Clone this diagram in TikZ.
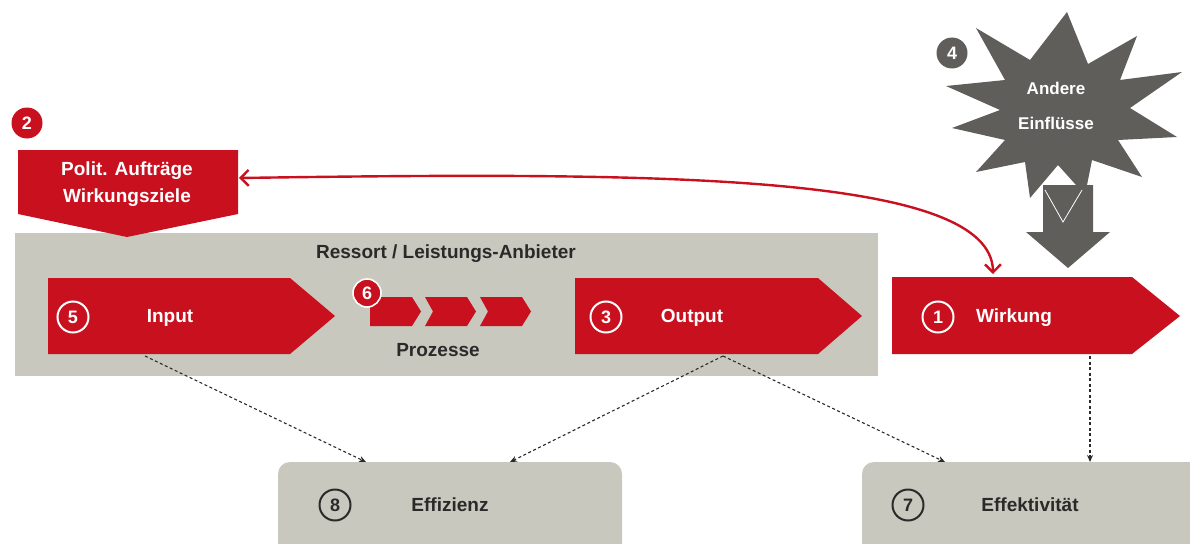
\documentclass[tikz,border=0pt]{standalone}
\usepackage{fontspec}
\setmainfont{Liberation Sans}
\usetikzlibrary{arrows.meta,shapes.symbols}
\definecolor{rred}{HTML}{C8101E}
\definecolor{rgray}{HTML}{C9C8BE}
\definecolor{dgray}{HTML}{5F5E5A}
\definecolor{txt}{HTML}{2A2A2A}
\tikzset{
  lbl/.style={font=\bfseries\fontsize{19}{27}\selectfont, text=white, align=center, inner sep=0},
  dlbl/.style={font=\bfseries\fontsize{19}{27}\selectfont, text=txt, align=center, inner sep=0},
  numw/.style={circle, draw=white, line width=2pt, minimum size=31pt, inner sep=0, text=white, font=\bfseries\fontsize{18}{18}\selectfont},
  numb/.style={circle, draw=txt, line width=2pt, minimum size=31pt, inner sep=0, text=txt, font=\bfseries\fontsize{18}{18}\selectfont},
  numf/.style={circle, fill=#1, minimum size=31pt, inner sep=0, text=white, font=\bfseries\fontsize{18}{18}\selectfont},
  dasharrow/.style={dash pattern=on 3pt off 2.5pt, draw=txt, line width=1.1pt, -{Stealth[length=7pt,width=6pt]}},
}
\begin{document}
\begin{tikzpicture}[x=1pt,y=-1pt]
\useasboundingbox (0,0) rectangle (1190,543);
% gray background box
\fill[rgray] (15,233) rectangle (878,376);
\node[dlbl] (ressort) at (446,254) {Ressort / Leistungs-Anbieter};
% Polit pentagon
\fill[rred] (18,150) -- (238,150) -- (238,214) -- (127,237) -- (18,214) -- cycle;
\node[lbl] (polit) at (127,184) {Polit. Aufträge\\Wirkungsziele};
\coordinate (politR) at (239,178);
\node[numf=rred] (n2) at (27,123) {2};
% Input arrow
\fill[rred] (48,278) -- (290,278) -- (335,316) -- (290,354) -- (48,354) -- cycle;
\node[numw] (n5) at (73,317) {5};
\node[lbl] (input) at (170,318) {Input};
\coordinate (inB) at (145,356);
% Prozesse chevrons
\foreach \x in {370,425,480}{
  \fill[rred] (\x,297) -- (\x+42,297) -- (\x+51,311.5) -- (\x+42,326) -- (\x,326) -- (\x+8,311.5) -- cycle;
}
\fill[rred] (370,297) rectangle (380,326);
\node[numf=rred, draw=white, line width=1.6pt, minimum size=28pt] (n6) at (367,293) {6};
\node[dlbl] (proz) at (438,350) {Prozesse};
% Output arrow
\fill[rred] (575,278) -- (818,278) -- (862,316) -- (818,354) -- (575,354) -- cycle;
\node[numw] (n3) at (606,317) {3};
\node[lbl] (output) at (692,318) {Output};
\coordinate (outB) at (723,356);
% Wirkung arrow
\fill[rred] (892,277) -- (1132,277) -- (1180,316) -- (1132,354) -- (892,354) -- cycle;
\node[numw] (n1) at (938,317) {1};
\node[lbl] (wirk) at (1014,318) {Wirkung};
\coordinate (wirkT) at (993,274);
\coordinate (wirkB) at (1090,356);
% starburst
\fill[dgray] (1067,12) -- (1088,64) -- (1137,36) -- (1120,80) -- (1182,72) -- (1130,108)
  -- (1177,137) -- (1118,140) -- (1142,177) -- (1092,160) -- (1085,195) -- (1058,165)
  -- (1030,198) -- (1025,162) -- (976,172) -- (1005,140) -- (952,128) -- (1000,110)
  -- (946,86) -- (1005,80) -- (976,28) -- (1030,60) -- cycle;
\node[lbl, font=\bfseries\fontsize{17}{35}\selectfont] (andere) at (1056,106) {Andere\\Einflüsse};
\node[numf=dgray] (n4) at (952,53) {4};
% big gray arrow down
\fill[dgray] (1043,185) -- (1093,185) -- (1093,232) -- (1110,232) -- (1068,268) -- (1026,232) -- (1043,232) -- cycle;
\draw[white, line width=0.8pt] (1045,190) -- (1063,222) -- (1082,190);
% red curved two-way arrow
\draw[rred, line width=2.4pt, {Straight Barb[length=8pt,width=16pt]}-{Straight Barb[length=8pt,width=16pt]}]
  (politR) .. controls (650,172) and (992,172) .. (wirkT);
% bottom boxes
\fill[rgray, rounded corners=12pt] (278,462) rectangle (622,560);
\node[numb] (n8) at (335,505) {8};
\node[dlbl] (eff) at (450,505) {Effizienz};
\fill[rgray, rounded corners=12pt] (862,462) rectangle (1210,560);
\node[numb] (n7) at (908,505) {7};
\node[dlbl] (effk) at (1030,505) {Effektivität};
\coordinate (effA) at (366,462);
\coordinate (effB) at (510,462);
\coordinate (effkA) at (945,462);
\coordinate (effkB) at (1090,462);
% dashed arrows
\draw[dasharrow] (inB) -- (effA);
\draw[dasharrow] (outB) -- (effB);
\draw[dasharrow] (outB) -- (effkA);
\draw[dasharrow] (wirkB) -- (effkB);
\end{tikzpicture}
\end{document}
